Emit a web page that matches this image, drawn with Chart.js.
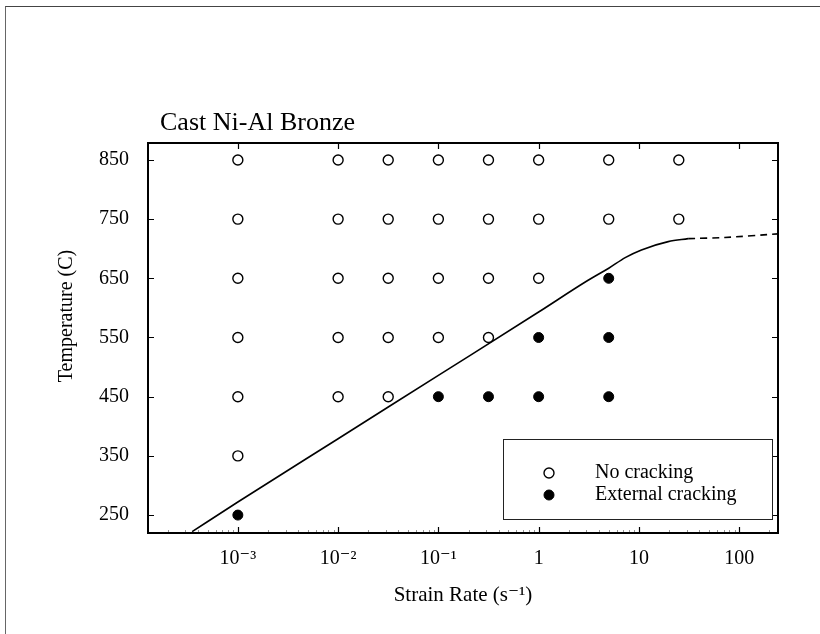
<!DOCTYPE html>
<html>
<head>
<meta charset="utf-8">
<script src="https://cdn.jsdelivr.net/npm/chart.js@4.4.0/dist/chart.umd.min.js"></script>
<style>
html,body{margin:0;padding:0;background:#fff;overflow:hidden}
#wrap{position:relative;width:820px;height:634px}
#frame{position:absolute;left:5px;top:6px;width:830px;height:640px;border-left:1px solid #666;border-top:1px solid #444;pointer-events:none}
</style>
</head>
<body>
<div id="wrap"><canvas id="c" width="820" height="634"></canvas><div id="frame"></div></div>
<script>
// ---- data ----
const chartTitle = 'Cast Ni-Al Bronze';
const xAxisTitle = 'Strain Rate (s\u207B\u00B9)';
const yAxisTitle = 'Temperature (C)';

const xTickValues = [0.001, 0.01, 0.1, 1, 10, 100];
const xTickLabels = ['10\u207B\u00B3', '10\u207B\u00B2', '10\u207B\u00B9', '1', '10', '100'];
const yTickValues = [250, 350, 450, 550, 650, 750, 850];

const noCrackingLabel = 'No cracking';
const noCrackingRate = [0.001,0.001,0.001,0.001,0.001,0.001,
  0.01,0.01,0.01,0.01,0.01,
  0.0316,0.0316,0.0316,0.0316,0.0316,
  0.1,0.1,0.1,0.1,
  0.316,0.316,0.316,0.316,
  1,1,1,
  5,5,
  25,25];
const noCrackingTemp = [850,750,650,550,450,350,
  850,750,650,550,450,
  850,750,650,550,450,
  850,750,650,550,
  850,750,650,550,
  850,750,650,
  850,750,
  850,750];

const externalCrackingLabel = 'External cracking';
const externalCrackingRate = [0.001, 0.1, 0.316, 1, 1, 5, 5, 5];
const externalCrackingTemp = [250, 450, 450, 550, 450, 650, 550, 450];

const boundaryRate = [0.00035, 0.001, 0.01, 0.1, 1, 3, 5, 7.3, 10.6, 19.6, 31];
const boundaryTemp = [222, 272, 379, 486, 593, 645, 667, 685, 698, 712, 717];
const boundaryExtRate = [31, 72, 244];
const boundaryExtTemp = [717, 719, 725];

const xMin = 0.000127, xMax = 244;
const yMin = 219.7, yMax = 878.6;

// ---- build ----
const serif = '"Liberation Serif", "Times New Roman", "DejaVu Serif", serif';
const pts = (xs, ys) => xs.map((x, i) => ({x: x, y: ys[i]}));

const decorPlugin = {
  id: 'decor',
  afterDatasetsDraw(chart) {
    const ctx = chart.ctx, a = chart.chartArea;
    const xs = chart.scales.x, ys = chart.scales.y;
    ctx.save();
    ctx.strokeStyle = '#000';
    // major ticks, pointing inward on all four sides
    ctx.lineWidth = 1.2;
    xTickValues.forEach(v => {
      const px = Math.round(xs.getPixelForValue(v)) + 0.5;
      ctx.beginPath();
      ctx.moveTo(px, a.bottom); ctx.lineTo(px, a.bottom - 6);
      ctx.moveTo(px, a.top); ctx.lineTo(px, a.top + 6);
      ctx.stroke();
    });
    // faint minor ticks on the bottom axis
    ctx.lineWidth = 0.8;
    ctx.strokeStyle = '#777';
    for (let e = -4; e <= 2; e++) {
      for (let m = 2; m <= 9; m++) {
        const v = m * Math.pow(10, e);
        if (v <= xMin || v >= xMax) continue;
        const px = Math.round(xs.getPixelForValue(v)) + 0.5;
        ctx.beginPath();
        ctx.moveTo(px, a.bottom); ctx.lineTo(px, a.bottom - 3);
        ctx.stroke();
      }
    }
    ctx.strokeStyle = '#000';
    ctx.lineWidth = 1.2;
    yTickValues.forEach(v => {
      const py = Math.round(ys.getPixelForValue(v)) + 0.5;
      ctx.beginPath();
      ctx.moveTo(a.left, py); ctx.lineTo(a.left + 6, py);
      ctx.moveTo(a.right, py); ctx.lineTo(a.right - 6, py);
      ctx.stroke();
    });
    // frame
    ctx.lineWidth = 2;
    ctx.strokeRect(a.left, a.top, a.right - a.left, a.bottom - a.top);
    // chart title
    ctx.fillStyle = '#000';
    ctx.font = '26px ' + serif;
    ctx.textAlign = 'left';
    ctx.textBaseline = 'alphabetic';
    ctx.fillText(chartTitle, a.left + 12, 130);
    // y axis title
    ctx.save();
    ctx.translate(67, 316);
    ctx.rotate(-Math.PI / 2);
    ctx.font = '20px ' + serif;
    ctx.textAlign = 'center';
    ctx.textBaseline = 'middle';
    ctx.fillText(yAxisTitle, 0, 0);
    ctx.restore();
    // legend (inside plot, lower right)
    const lx = 503, ly = 439, lw = a.right - 6 - lx, lh = 80;
    ctx.fillStyle = '#fff';
    ctx.fillRect(lx, ly, lw, lh);
    ctx.lineWidth = 1;
    ctx.strokeStyle = '#222';
    ctx.strokeRect(lx + 0.5, ly + 0.5, lw, lh);
    const rows = [chart.data.datasets[0], chart.data.datasets[1]];
    rows.forEach((ds, i) => {
      const cy = 473 + i * 22;
      ctx.beginPath();
      ctx.arc(549, cy, ds.pointRadius, 0, Math.PI * 2);
      ctx.fillStyle = ds.backgroundColor;
      ctx.fill();
      ctx.lineWidth = ds.borderWidth;
      ctx.strokeStyle = ds.borderColor;
      ctx.stroke();
      ctx.fillStyle = '#000';
      ctx.font = '20px ' + serif;
      ctx.textAlign = 'left';
      ctx.textBaseline = 'middle';
      ctx.fillText(ds.label, 595, cy);
    });
    ctx.restore();
  }
};

new Chart(document.getElementById('c'), {
  type: 'scatter',
  data: {
    datasets: [
      {label: noCrackingLabel, data: pts(noCrackingRate, noCrackingTemp),
       pointRadius: 5, pointHoverRadius: 5, borderWidth: 1.4,
       borderColor: '#000', backgroundColor: '#fff'},
      {label: externalCrackingLabel, data: pts(externalCrackingRate, externalCrackingTemp),
       pointRadius: 5, pointHoverRadius: 5, borderWidth: 1,
       borderColor: '#000', backgroundColor: '#000'},
      {label: 'boundary', type: 'line', data: pts(boundaryRate, boundaryTemp),
       showLine: true, pointRadius: 0, borderColor: '#000', borderWidth: 1.6,
       cubicInterpolationMode: 'monotone', fill: false},
      {label: 'boundary (extrapolated)', type: 'line', data: pts(boundaryExtRate, boundaryExtTemp),
       showLine: true, pointRadius: 0, borderColor: '#000', borderWidth: 1.6,
       borderDash: [7, 5], fill: false, tension: 0.2}
    ]
  },
  options: {
    responsive: false,
    animation: false,
    layout: {padding: {top: 143, right: 42, left: 0, bottom: 0}},
    plugins: {legend: {display: false}, tooltip: {enabled: false}, title: {display: false}},
    scales: {
      x: {
        type: 'logarithmic', position: 'bottom', min: xMin, max: xMax,
        grid: {display: false, drawTicks: false},
        border: {display: false},
        afterBuildTicks: s => { s.ticks = xTickValues.map(v => ({value: v, major: true})); },
        afterFit: s => { s.height = 101; },
        ticks: {
          autoSkip: false, maxRotation: 0, padding: 14, color: '#000',
          font: {family: serif, size: 20},
          callback: (v, i) => xTickLabels[i]
        },
        title: {display: true, text: xAxisTitle, color: '#000',
                font: {family: serif, size: 21}, padding: {top: 0, bottom: 26}}
      },
      y: {
        type: 'linear', min: yMin, max: yMax,
        grid: {display: false, drawTicks: false},
        border: {display: false},
        afterBuildTicks: s => { s.ticks = yTickValues.map(v => ({value: v})); },
        afterFit: s => { s.width = 148; },
        ticks: {padding: 19, color: '#000', font: {family: serif, size: 20},
                callback: v => String(v)}
      }
    }
  },
  plugins: [decorPlugin]
});
</script>
</body>
</html>
